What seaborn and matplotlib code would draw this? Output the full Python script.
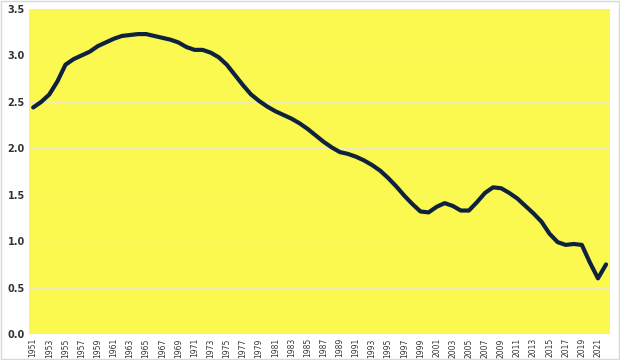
import matplotlib
matplotlib.use("Agg")
import matplotlib.pyplot as plt
import seaborn as sns
import pandas as pd
import numpy as np

# Values (1951-2022)
years = list(range(1951, 2023))
values = [
    2.44, 2.50, 2.58, 2.72, 2.90, 2.96, 3.00, 3.04, 3.10, 3.14,
    3.18, 3.21, 3.22, 3.23, 3.23, 3.21, 3.19, 3.17, 3.14, 3.09,
    3.06, 3.06, 3.03, 2.98, 2.90, 2.79, 2.68, 2.58, 2.51, 2.45,
    2.40, 2.36, 2.32, 2.27, 2.21, 2.14, 2.07, 2.01, 1.96, 1.94,
    1.91, 1.87, 1.82, 1.76, 1.68, 1.59, 1.49, 1.40, 1.32, 1.31,
    1.37, 1.41, 1.38, 1.33, 1.33, 1.42, 1.52, 1.58, 1.57, 1.52,
    1.46, 1.38, 1.30, 1.21, 1.08, 0.99, 0.96, 0.97, 0.96, 0.77,
    0.60, 0.75,
]
y_ticks = [0.0, 0.5, 1.0, 1.5, 2.0, 2.5, 3.0, 3.5]
x_ticks = list(range(1951, 2022, 2))

df = pd.DataFrame({"year": years, "value": values})

sns.set_style("white")
plt.rcParams["font.family"] = ["DejaVu Sans"]

fig = plt.figure(figsize=(6.2, 3.6), dpi=100)
ax = fig.add_axes([0.047, 0.072, 0.937, 0.903])
ax.set_facecolor("#FBF94F")

sns.lineplot(data=df, x="year", y="value", ax=ax, color="#0E2240",
             linewidth=3.0, solid_capstyle="round", solid_joinstyle="round")

ax.set_xlim(1950.5, 2022.5)
ax.set_ylim(0, 3.5)
ax.set_yticks(y_ticks)
ax.set_yticklabels([f"{v:.1f}" for v in y_ticks], fontsize=7, fontweight="bold",
                   color="#333333")
ax.set_xticks(x_ticks)
ax.set_xticklabels([str(y) for y in x_ticks], rotation=90, fontsize=5.5,
                   color="#333333")
ax.tick_params(axis="both", length=0, pad=3)
ax.yaxis.grid(True, color="#EDEBB8", linewidth=0.8)
ax.set_axisbelow(True)
for s in ax.spines.values():
    s.set_visible(False)
ax.set_xlabel("")
ax.set_ylabel("")

# light border around the whole picture
fig.patches.append(plt.Rectangle((0.001, 0.002), 0.997, 0.995, transform=fig.transFigure,
                                 fill=False, edgecolor="#D9D9D9", linewidth=1))

fig.savefig("out.png", dpi=100)
